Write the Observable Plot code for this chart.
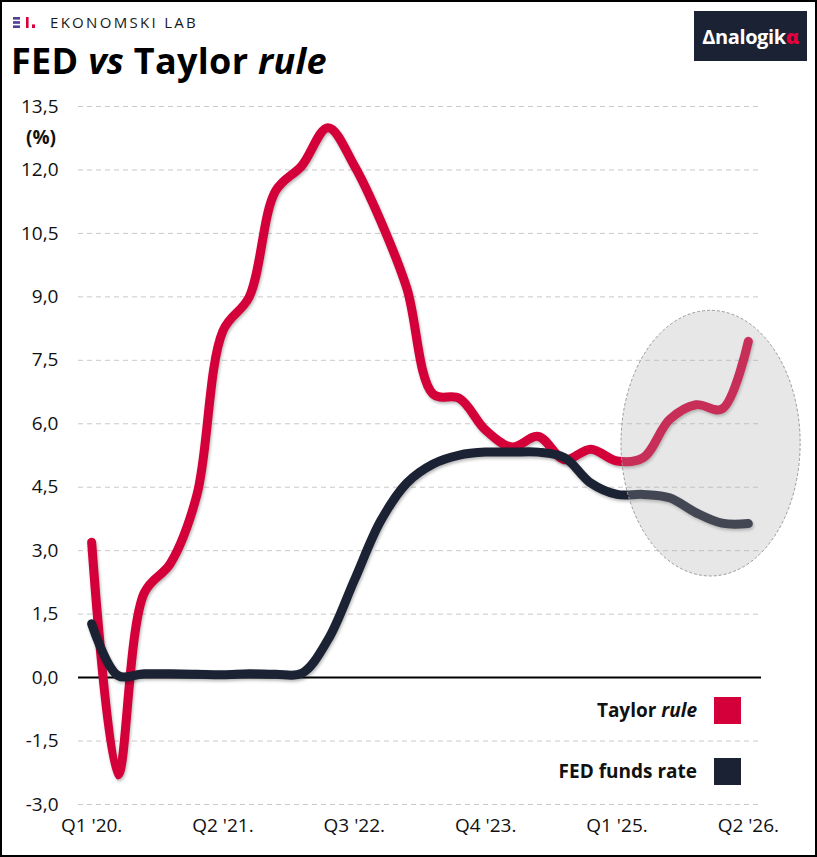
<!DOCTYPE html>
<html>
<head>
<meta charset="utf-8">
<script src="https://cdn.jsdelivr.net/npm/d3@7"></script>
<script src="https://cdn.jsdelivr.net/npm/@observablehq/plot@0.6"></script>
<style>
  body { margin: 0; background: #fff; font-family: "Open Sans", sans-serif; color: #111; }
  #frame { position: relative; width: 817px; height: 857px; box-sizing: border-box; border: 2px solid #000; overflow: hidden; background: #fff; }
  #header { position: relative; height: 88px; }
  .brand { position: absolute; left: 11px; top: 12px; height: 16px; display: flex; align-items: center; }
  .brand span { font-size: 15px; line-height: 15px; letter-spacing: 2.3px; color: #1a1a1a; margin-left: 14px; }
  .title { position: absolute; left: 9px; top: 41px; font-size: 36px; line-height: 36px; font-weight: 700; letter-spacing: 0.3px; color: #000; }
  .analogika { position: absolute; right: 8px; top: 9px; width: 113px; height: 50px; background: #1b2233;
    display: flex; align-items: center; justify-content: center; }
  .analogika span { color: #fff; font-weight: 700; font-size: 20px; letter-spacing: -0.4px; }
  .analogika b { color: #e3003d; }
  #unit { position: absolute; left: 24px; top: 122px; font-size: 19px; font-weight: 700; }
  #legend { position: absolute; right: 74px; top: 694px; font-size: 19px; font-weight: 700; }
  .item { display: flex; align-items: center; justify-content: flex-end; height: 28px; margin-bottom: 33px; }
  .item .sw { width: 27px; height: 27px; margin-left: 17px; }
</style>
</head>
<body>
<div id="frame">
  <div id="header">
    <div class="brand">
      <svg width="23" height="11">
        <rect x="0" y="0" width="7" height="2.6" fill="#4e3f97"/>
        <rect x="0" y="4.2" width="7" height="2.6" fill="#4e3f97"/>
        <rect x="0" y="8.4" width="7" height="2.6" fill="#4e3f97"/>
        <rect x="13" y="0" width="2.6" height="11" fill="#d6003a"/>
        <rect x="19" y="7.4" width="3" height="3.6" fill="#d6003a"/>
      </svg>
      <span>EKONOMSKI LAB</span>
    </div>
    <div class="title">FED <i>vs</i> Taylor <i>rule</i></div>
    <div class="analogika"><span>Δnalogik<b>α</b></span></div>
  </div>
  <div id="chart"></div>
  <div id="unit">(%)</div>
  <div id="legend">
    <div class="item"><span>Taylor <i>rule</i></span><div class="sw" style="background:#d4003a"></div></div>
    <div class="item"><span>FED funds rate</span><div class="sw" style="background:#1b2233"></div></div>
  </div>
</div>
<script>
// kvartali Q1 '20 - Q2 '26
const quarters = ["Q1 '20", "Q2 '20", "Q3 '20", "Q4 '20", "Q1 '21", "Q2 '21", "Q3 '21", "Q4 '21",
  "Q1 '22", "Q2 '22", "Q3 '22", "Q4 '22", "Q1 '23", "Q2 '23", "Q3 '23", "Q4 '23",
  "Q1 '24", "Q2 '24", "Q3 '24", "Q4 '24", "Q1 '25", "Q2 '25", "Q3 '25", "Q4 '25", "Q1 '26", "Q2 '26"]

const taylorRule = [3.2, -2.3, 2.0, 2.7, 4.3, 8.2, 9.0, 11.5, 12.1, 13.0, 12.1, 10.8, 9.2,
  6.7, 6.6, 5.85, 5.45, 5.7, 5.15, 5.4, 5.12, 5.2, 6.1, 6.45, 6.35, 7.95]

const fedFunds = [1.27, 0.05, 0.09, 0.09, 0.08, 0.07, 0.09, 0.08, 0.1, 0.9, 2.3, 3.7, 4.6,
  5.05, 5.26, 5.33, 5.33, 5.33, 5.2, 4.6, 4.33, 4.33, 4.25, 3.9, 3.65, 3.64]

const xTicks = [0, 5, 10, 15, 20, 25]
const yTicks = [-3, -1.5, 0, 1.5, 3, 4.5, 6, 7.5, 9, 10.5, 12, 13.5]

// istaknuti period (elipsa): centar i poluose u jedinicama skala
const focus = {i: 23.58, v: 5.53, di: 3.41, dv: 3.14}

const rows = quarters.map((q, i) => ({i, q, taylor: taylorRule[i], fed: fedFunds[i]}))

const chart = Plot.plot({
  width: 813,
  height: 765,
  marginTop: 16,
  marginBottom: 51,
  marginLeft: 76,
  marginRight: 54,
  style: {fontFamily: '"Open Sans", sans-serif', fontSize: '19px', color: '#111', background: 'transparent', overflow: 'visible'},
  x: {domain: [-0.5, 25.5], ticks: xTicks, tickFormat: i => quarters[i] + '.', tickSize: 0, tickPadding: 14, label: null},
  y: {domain: [-3, 13.5], ticks: yTicks, tickFormat: d => d.toFixed(1).replace('.', ','), tickSize: 0, tickPadding: 20, label: null},
  marks: [
    Plot.gridY(yTicks.filter(d => d !== 0), {stroke: '#c9c9c9', strokeOpacity: 1, strokeDasharray: '5,4'}),
    Plot.ruleY([0], {stroke: '#000', strokeWidth: 2}),
    Plot.line(rows, {x: 'i', y: 'taylor', stroke: '#d4003a', strokeWidth: 9, curve: 'catmull-rom'}),
    Plot.line(rows, {x: 'i', y: 'fed', stroke: '#1b2233', strokeWidth: 9, curve: 'catmull-rom'}),
  ],
})

const svg = d3.select(chart)
svg.selectAll('g[aria-label=line] path')
  .style('filter', 'drop-shadow(1.5px 2px 1.5px rgba(0,0,0,0.28))')

const x = chart.scale('x'), y = chart.scale('y')
const cx = x.apply(focus.i), cy = y.apply(focus.v)
svg.append('ellipse')
  .attr('cx', cx)
  .attr('cy', cy)
  .attr('rx', x.apply(focus.i + focus.di) - cx)
  .attr('ry', cy - y.apply(focus.v + focus.dv))
  .attr('fill', '#a9a9a9')
  .attr('fill-opacity', 0.28)
  .attr('stroke', '#9a9a9a')
  .attr('stroke-width', 1)
  .attr('stroke-dasharray', '3,2')

d3.select('#chart').append(() => chart)
</script>
</body>
</html>
